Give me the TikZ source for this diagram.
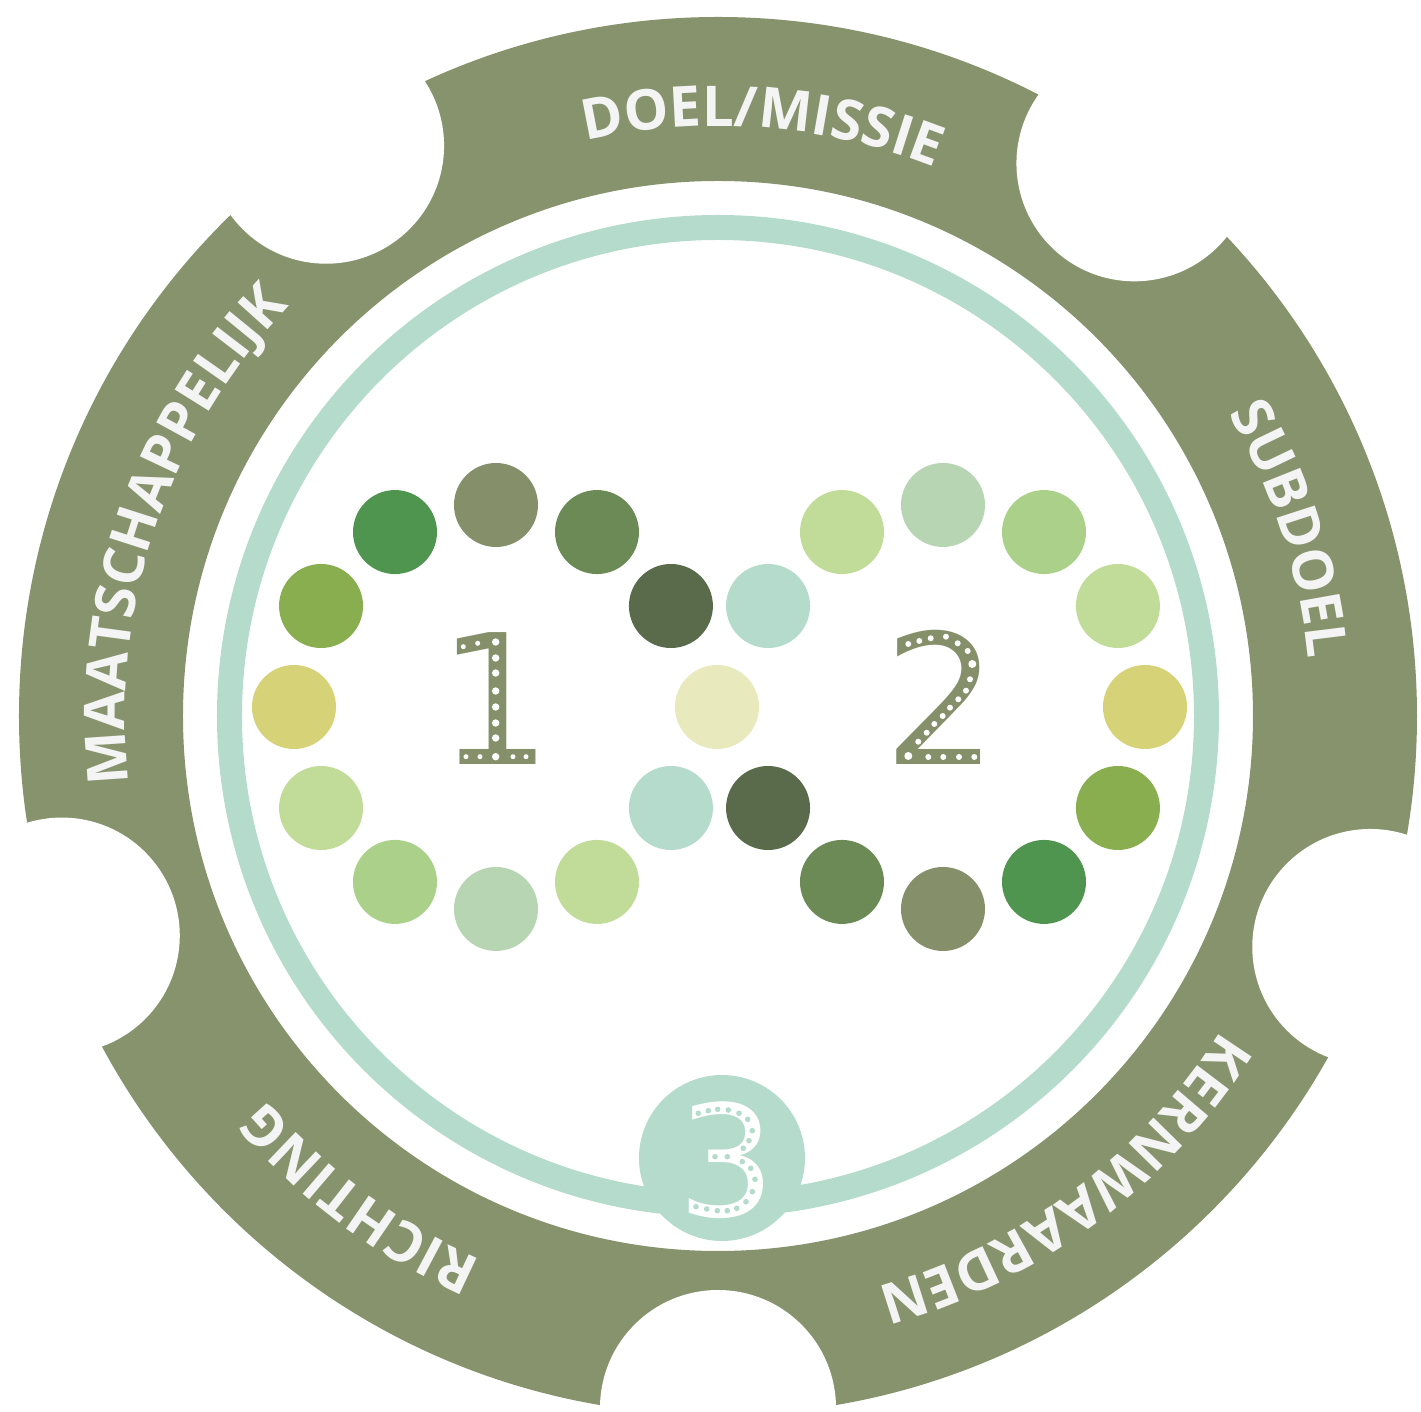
\documentclass[tikz,border=0pt]{standalone}
\usepackage{fontspec}
\usepackage{xcolor}
\usepackage{tikz}
\usetikzlibrary{calc,decorations.text}
\newfontfamily\ringfont{Open Sans}
\newfontfamily\digitfont{DejaVu Sans}
\definecolor{ring}{HTML}{86936C}
\definecolor{mint}{HTML}{B4DBCC}
\definecolor{label}{HTML}{F4F4F4}
\definecolor{olive}{HTML}{85906A}
\definecolor{yolk}{HTML}{D6D278}
\definecolor{grass}{HTML}{88AE50}
\definecolor{forest}{HTML}{4F9550}
\definecolor{moss}{HTML}{6B8A55}
\definecolor{pine}{HTML}{5A6B4C}
\definecolor{lime}{HTML}{C1DB98}
\definecolor{sage}{HTML}{B7D4B3}
\definecolor{leaf}{HTML}{AAD08A}
\definecolor{cream}{HTML}{E8EABD}
\tikzset{
  RingText/.style={
    decorate,
    decoration={text along path, text align={fit to path}, text color=label,
      text={|\ringfont\bfseries\fontsize{32}{32}\selectfont|#1}}
  },
  BigDigit/.style={inner sep=0pt, anchor=base, font=\digitfont\fontsize{103}{103}\selectfont},
  Bead/.style={radius=42}
}
\newcommand{\RingLabel}[4]{%
  % #1 = text, #2 = start angle, #3 = end angle, #4 = baseline radius
  \path[RingText={#1}] (#2:#4) arc[start angle=#2, end angle=#3, radius=#4];
}

\begin{document}
\begin{tikzpicture}[x=0.02cm, y=0.02cm]
  \useasboundingbox (-718,-696) rectangle (703,716);

  % outer band with round bites
  \fill[ring, even odd rule] (0,0) circle (699) (0,0) circle (535);
  \foreach \ang in {270,340.5,53,124.5,198.5}
    \fill[white] (\ang:692) circle (118);

  \RingLabel{DOEL/MISSIE}{103}{68.5}{590}
  \RingLabel{SUBDOEL}{30.7}{5.7}{593}
  \RingLabel{KERNWAARDEN}{-32}{-74}{593}
  \RingLabel{RICHTING}{246.5}{220.5}{593}
  \RingLabel{MAATSCHAPPELIJK}{186.5}{137}{593}

  % inner mint ring and badge
  \draw[mint, line width=0.5cm] (0,0) circle (488.5);
  \coordinate (Badge) at (4,-442);
  \fill[mint] (Badge) circle (83);

  % infinity of beads
  \coordinate (LeftHub) at (-222,9);
  \coordinate (RightHub) at (225,9);
  \coordinate (MidBead) at (-1,9);
  \foreach \ang/\col in {180/yolk,150/grass,120/forest,90/olive,60/moss,30/pine,
                         210/lime,240/leaf,270/sage,300/lime,330/mint}
    \fill[\col] ($(LeftHub)+(\ang:202)$) circle[Bead];
  \foreach \ang/\col in {150/mint,120/lime,90/sage,60/leaf,30/lime,0/yolk,
                         -30/grass,-60/forest,-90/olive,-120/moss,-150/pine}
    \fill[\col] ($(RightHub)+(\ang:202)$) circle[Bead];
  \fill[cream] (MidBead) circle[Bead];

  % numbers with light bulbs
  \node[BigDigit, text=olive] (One) at (-223,-49) {1};
  \node[BigDigit, text=olive] (Two) at (223,-49) {2};
  \node[BigDigit, text=white, font=\digitfont\fontsize{88}{88}\selectfont] (Three) at (9,-501) {3};

  \foreach \p in {(-254.7,69.3),(-240.3,72.7),(-252,-40.7),(-238,-40.7),(-205,-40.7),(-192,-40.7)}
    \fill[white] \p circle (2.5);
  \foreach \y in {74,58,43,25,9,-7,-22,-40.7}
    \fill[white] (-222.3,\y) circle (3.7);

  \foreach \p in {(190.3,72),(201.3,75),(212.7,77.7),(228,79.3),(239.7,72.7),(249.7,65),
                  (252,36.7),(248,25.3),(240.3,16.7),(232,8.3),(224.7,0),(216.3,-8),
                  (208.7,-16.7),(200.3,-25.7),(210.3,-41),(225.3,-41),(241,-41),(256.3,-41)}
    \fill[white] \p circle (3);
  \fill[white] (254.3,52) circle (4);
  \fill[white] (190.3,-40) circle (4);

  \foreach \p in {(-19.7,-397.3),(-9.7,-394.7),(-0.3,-393.3),(10.3,-394),(21,-397.3),
                  (29.7,-403.3),(34.3,-414.7),(31,-424.7),(25.3,-432.3),(-3,-440.7),
                  (9.3,-440.7),(24.3,-445.7),(32.7,-452.3),(37,-463.3),(34.3,-475.7),
                  (28,-485.7),(18.7,-492.3),(9.3,-494.7),(-0.7,-494.7),(-11.3,-493),(-22,-490.7)}
    \fill[mint] \p circle (2.8);
\end{tikzpicture}
\end{document}
